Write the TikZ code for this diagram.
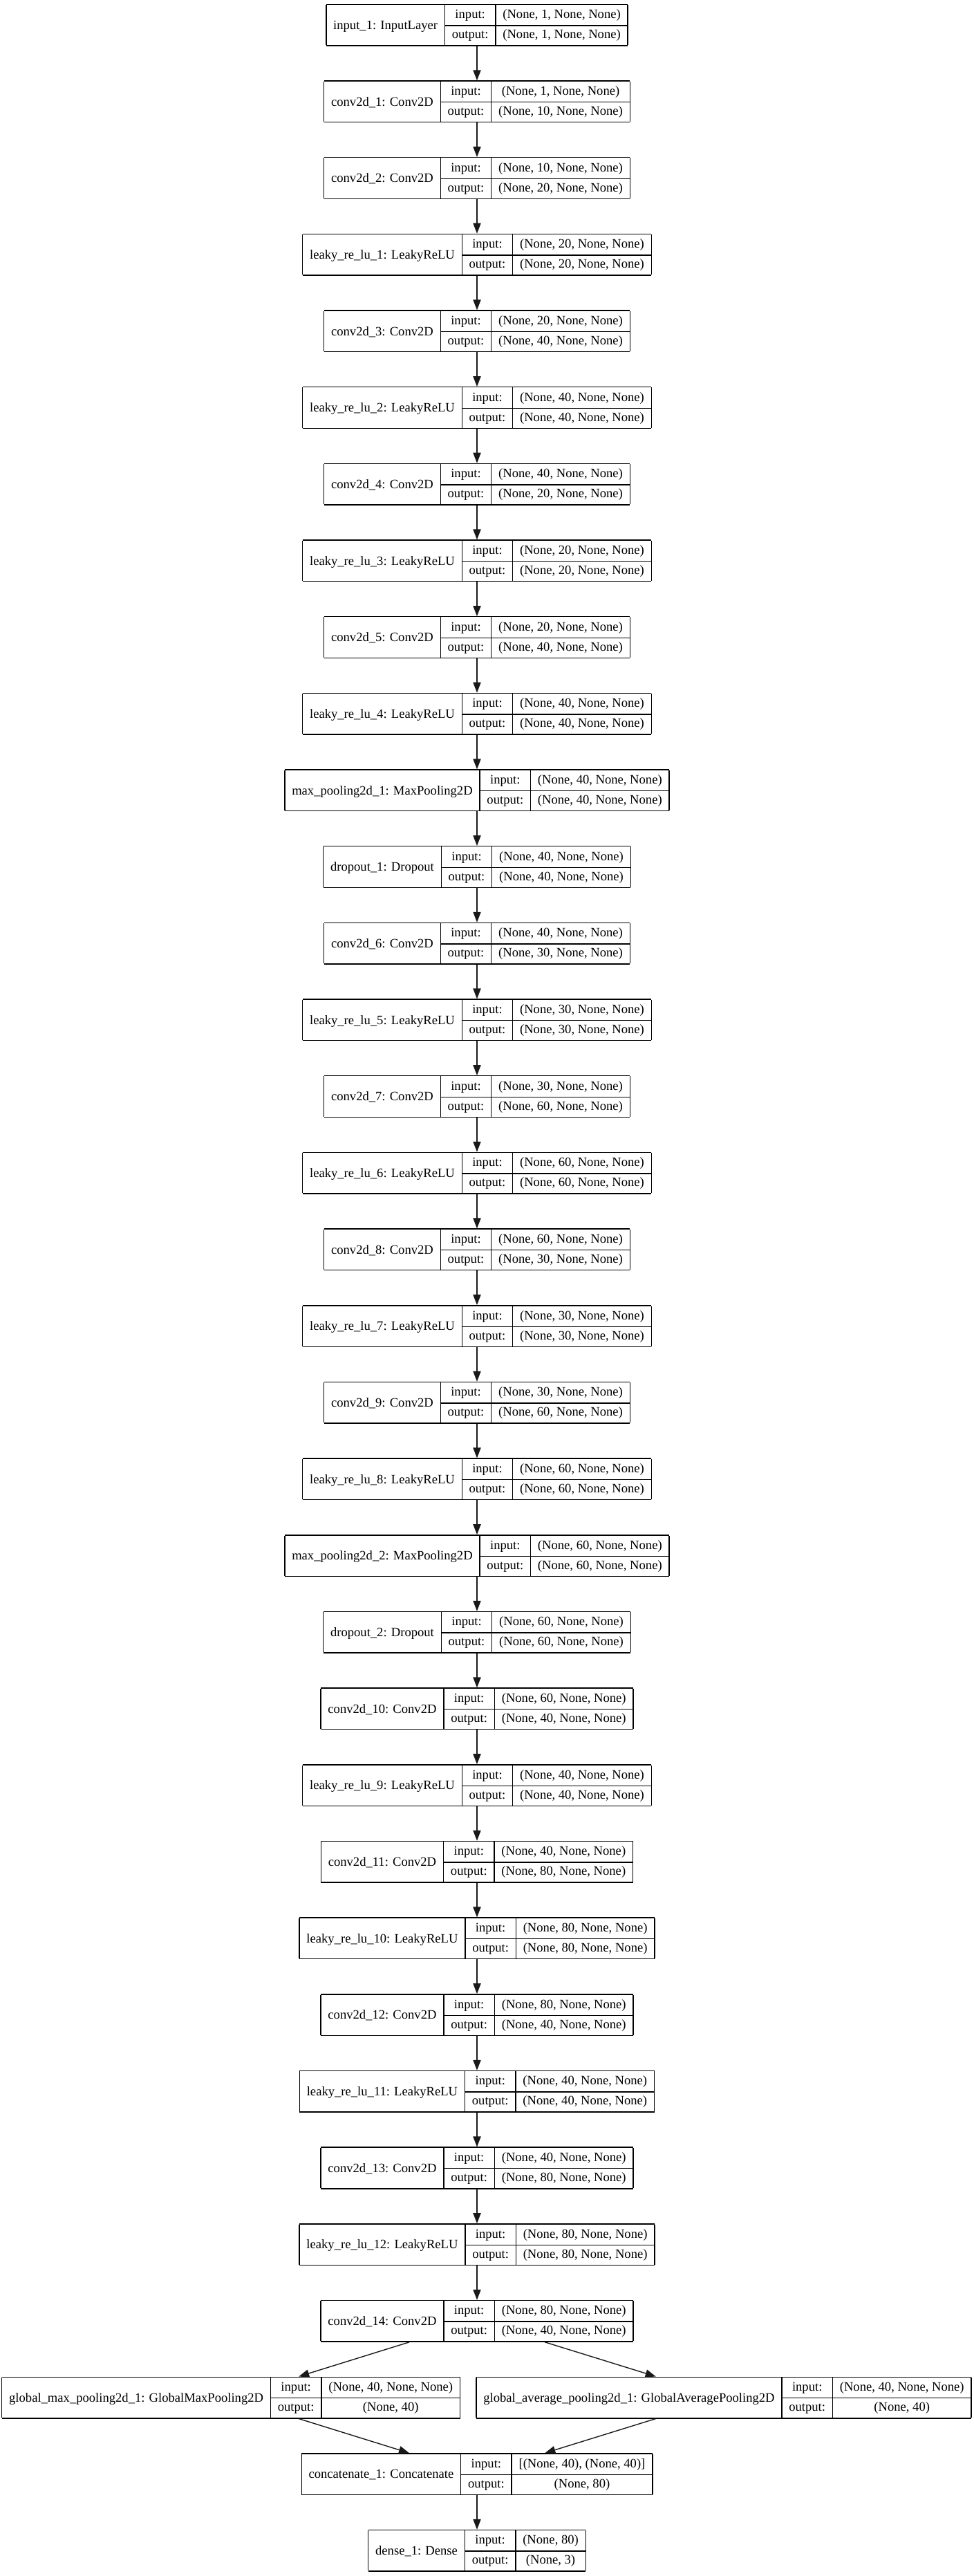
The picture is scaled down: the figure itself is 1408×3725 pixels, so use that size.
\documentclass[tikz,border=0pt]{standalone}
\usepackage{fontspec}
\setmainfont{Liberation Serif}
\usetikzlibrary{arrows.meta}

% table geometry of one layer record
\setlength{\arrayrulewidth}{0.7pt}
\setlength{\tabcolsep}{5.2pt}
\newcommand{\rowstrut}{\rule[-4.75pt]{0pt}{14.55pt}}

% [options]{node name}{x}{row}{layer title}{input shape}{output shape}
\newcommand{\nnlayer}[7][]{%
  \node[layer,#1] (#2) at (#3,{36.2+110.67*#4}) {%
    \begin{tabular}{|c|c|c|}\hline
      \raisebox{-7.85pt}[0pt][0pt]{#5} & input: & #6\rowstrut\\ \cline{2-3}
       & output: & #7\rowstrut\\ \hline
    \end{tabular}};}

\tikzset{
  layer/.style={inner sep=0pt, outer sep=0pt, font=\fontsize{9.3pt}{11pt}\selectfont},
  edge/.style={draw=black!90, line width=0.7pt, -{Triangle[length=7.5pt,width=5.6pt]}}
}

\begin{document}
\begin{tikzpicture}[x=0.5pt, y=-0.5pt]
  \useasboundingbox (0,0) rectangle (1408,3725);

  % main sequential stack
  \nnlayer{l1}{690}{0}{input\_1: InputLayer}{(None, 1, None, None)}{(None, 1, None, None)}
  \nnlayer{l2}{690}{1}{conv2d\_1: Conv2D}{(None, 1, None, None)}{(None, 10, None, None)}
  \nnlayer{l3}{690}{2}{conv2d\_2: Conv2D}{(None, 10, None, None)}{(None, 20, None, None)}
  \nnlayer{l4}{690}{3}{leaky\_re\_lu\_1: LeakyReLU}{(None, 20, None, None)}{(None, 20, None, None)}
  \nnlayer{l5}{690}{4}{conv2d\_3: Conv2D}{(None, 20, None, None)}{(None, 40, None, None)}
  \nnlayer{l6}{690}{5}{leaky\_re\_lu\_2: LeakyReLU}{(None, 40, None, None)}{(None, 40, None, None)}
  \nnlayer{l7}{690}{6}{conv2d\_4: Conv2D}{(None, 40, None, None)}{(None, 20, None, None)}
  \nnlayer{l8}{690}{7}{leaky\_re\_lu\_3: LeakyReLU}{(None, 20, None, None)}{(None, 20, None, None)}
  \nnlayer{l9}{690}{8}{conv2d\_5: Conv2D}{(None, 20, None, None)}{(None, 40, None, None)}
  \nnlayer{l10}{690}{9}{leaky\_re\_lu\_4: LeakyReLU}{(None, 40, None, None)}{(None, 40, None, None)}
  \nnlayer{l11}{690}{10}{max\_pooling2d\_1: MaxPooling2D}{(None, 40, None, None)}{(None, 40, None, None)}
  \nnlayer{l12}{690}{11}{dropout\_1: Dropout}{(None, 40, None, None)}{(None, 40, None, None)}
  \nnlayer{l13}{690}{12}{conv2d\_6: Conv2D}{(None, 40, None, None)}{(None, 30, None, None)}
  \nnlayer{l14}{690}{13}{leaky\_re\_lu\_5: LeakyReLU}{(None, 30, None, None)}{(None, 30, None, None)}
  \nnlayer{l15}{690}{14}{conv2d\_7: Conv2D}{(None, 30, None, None)}{(None, 60, None, None)}
  \nnlayer{l16}{690}{15}{leaky\_re\_lu\_6: LeakyReLU}{(None, 60, None, None)}{(None, 60, None, None)}
  \nnlayer{l17}{690}{16}{conv2d\_8: Conv2D}{(None, 60, None, None)}{(None, 30, None, None)}
  \nnlayer{l18}{690}{17}{leaky\_re\_lu\_7: LeakyReLU}{(None, 30, None, None)}{(None, 30, None, None)}
  \nnlayer{l19}{690}{18}{conv2d\_9: Conv2D}{(None, 30, None, None)}{(None, 60, None, None)}
  \nnlayer{l20}{690}{19}{leaky\_re\_lu\_8: LeakyReLU}{(None, 60, None, None)}{(None, 60, None, None)}
  \nnlayer{l21}{690}{20}{max\_pooling2d\_2: MaxPooling2D}{(None, 60, None, None)}{(None, 60, None, None)}
  \nnlayer{l22}{690}{21}{dropout\_2: Dropout}{(None, 60, None, None)}{(None, 60, None, None)}
  \nnlayer{l23}{690}{22}{conv2d\_10: Conv2D}{(None, 60, None, None)}{(None, 40, None, None)}
  \nnlayer{l24}{690}{23}{leaky\_re\_lu\_9: LeakyReLU}{(None, 40, None, None)}{(None, 40, None, None)}
  \nnlayer{l25}{690}{24}{conv2d\_11: Conv2D}{(None, 40, None, None)}{(None, 80, None, None)}
  \nnlayer{l26}{690}{25}{leaky\_re\_lu\_10: LeakyReLU}{(None, 80, None, None)}{(None, 80, None, None)}
  \nnlayer{l27}{690}{26}{conv2d\_12: Conv2D}{(None, 80, None, None)}{(None, 40, None, None)}
  \nnlayer{l28}{690}{27}{leaky\_re\_lu\_11: LeakyReLU}{(None, 40, None, None)}{(None, 40, None, None)}
  \nnlayer{l29}{690}{28}{conv2d\_13: Conv2D}{(None, 40, None, None)}{(None, 80, None, None)}
  \nnlayer{l30}{690}{29}{leaky\_re\_lu\_12: LeakyReLU}{(None, 80, None, None)}{(None, 80, None, None)}
  \nnlayer{l31}{690}{30}{conv2d\_14: Conv2D}{(None, 80, None, None)}{(None, 40, None, None)}

  % two pooling branches
  \nnlayer[anchor=east]{gmax}{665.5}{31}{global\_max\_pooling2d\_1: GlobalMaxPooling2D}{(None, 40, None, None)}{(None, 40)}
  \nnlayer[anchor=west]{gavg}{689}{31}{global\_average\_pooling2d\_1: GlobalAveragePooling2D}{(None, 40, None, None)}{(None, 40)}

  % merge and classifier head
  \nnlayer{concat}{690}{32}{concatenate\_1: Concatenate}{[(None, 40), (None, 40)]}{(None, 80)}
  \nnlayer{dense}{690}{33}{dense\_1: Dense}{(None, 80)}{(None, 3)}

  % connectors
  \foreach \a [evaluate=\a as \b using int(\a+1)] in {1,...,30}
    \draw[edge] (l\a) -- (l\b);
  \draw[edge] (l31) -- (gmax);
  \draw[edge] (l31) -- (gavg);
  \draw[edge] (gmax) -- (concat);
  \draw[edge] (gavg) -- (concat);
  \draw[edge] (concat) -- (dense);
\end{tikzpicture}
\end{document}
